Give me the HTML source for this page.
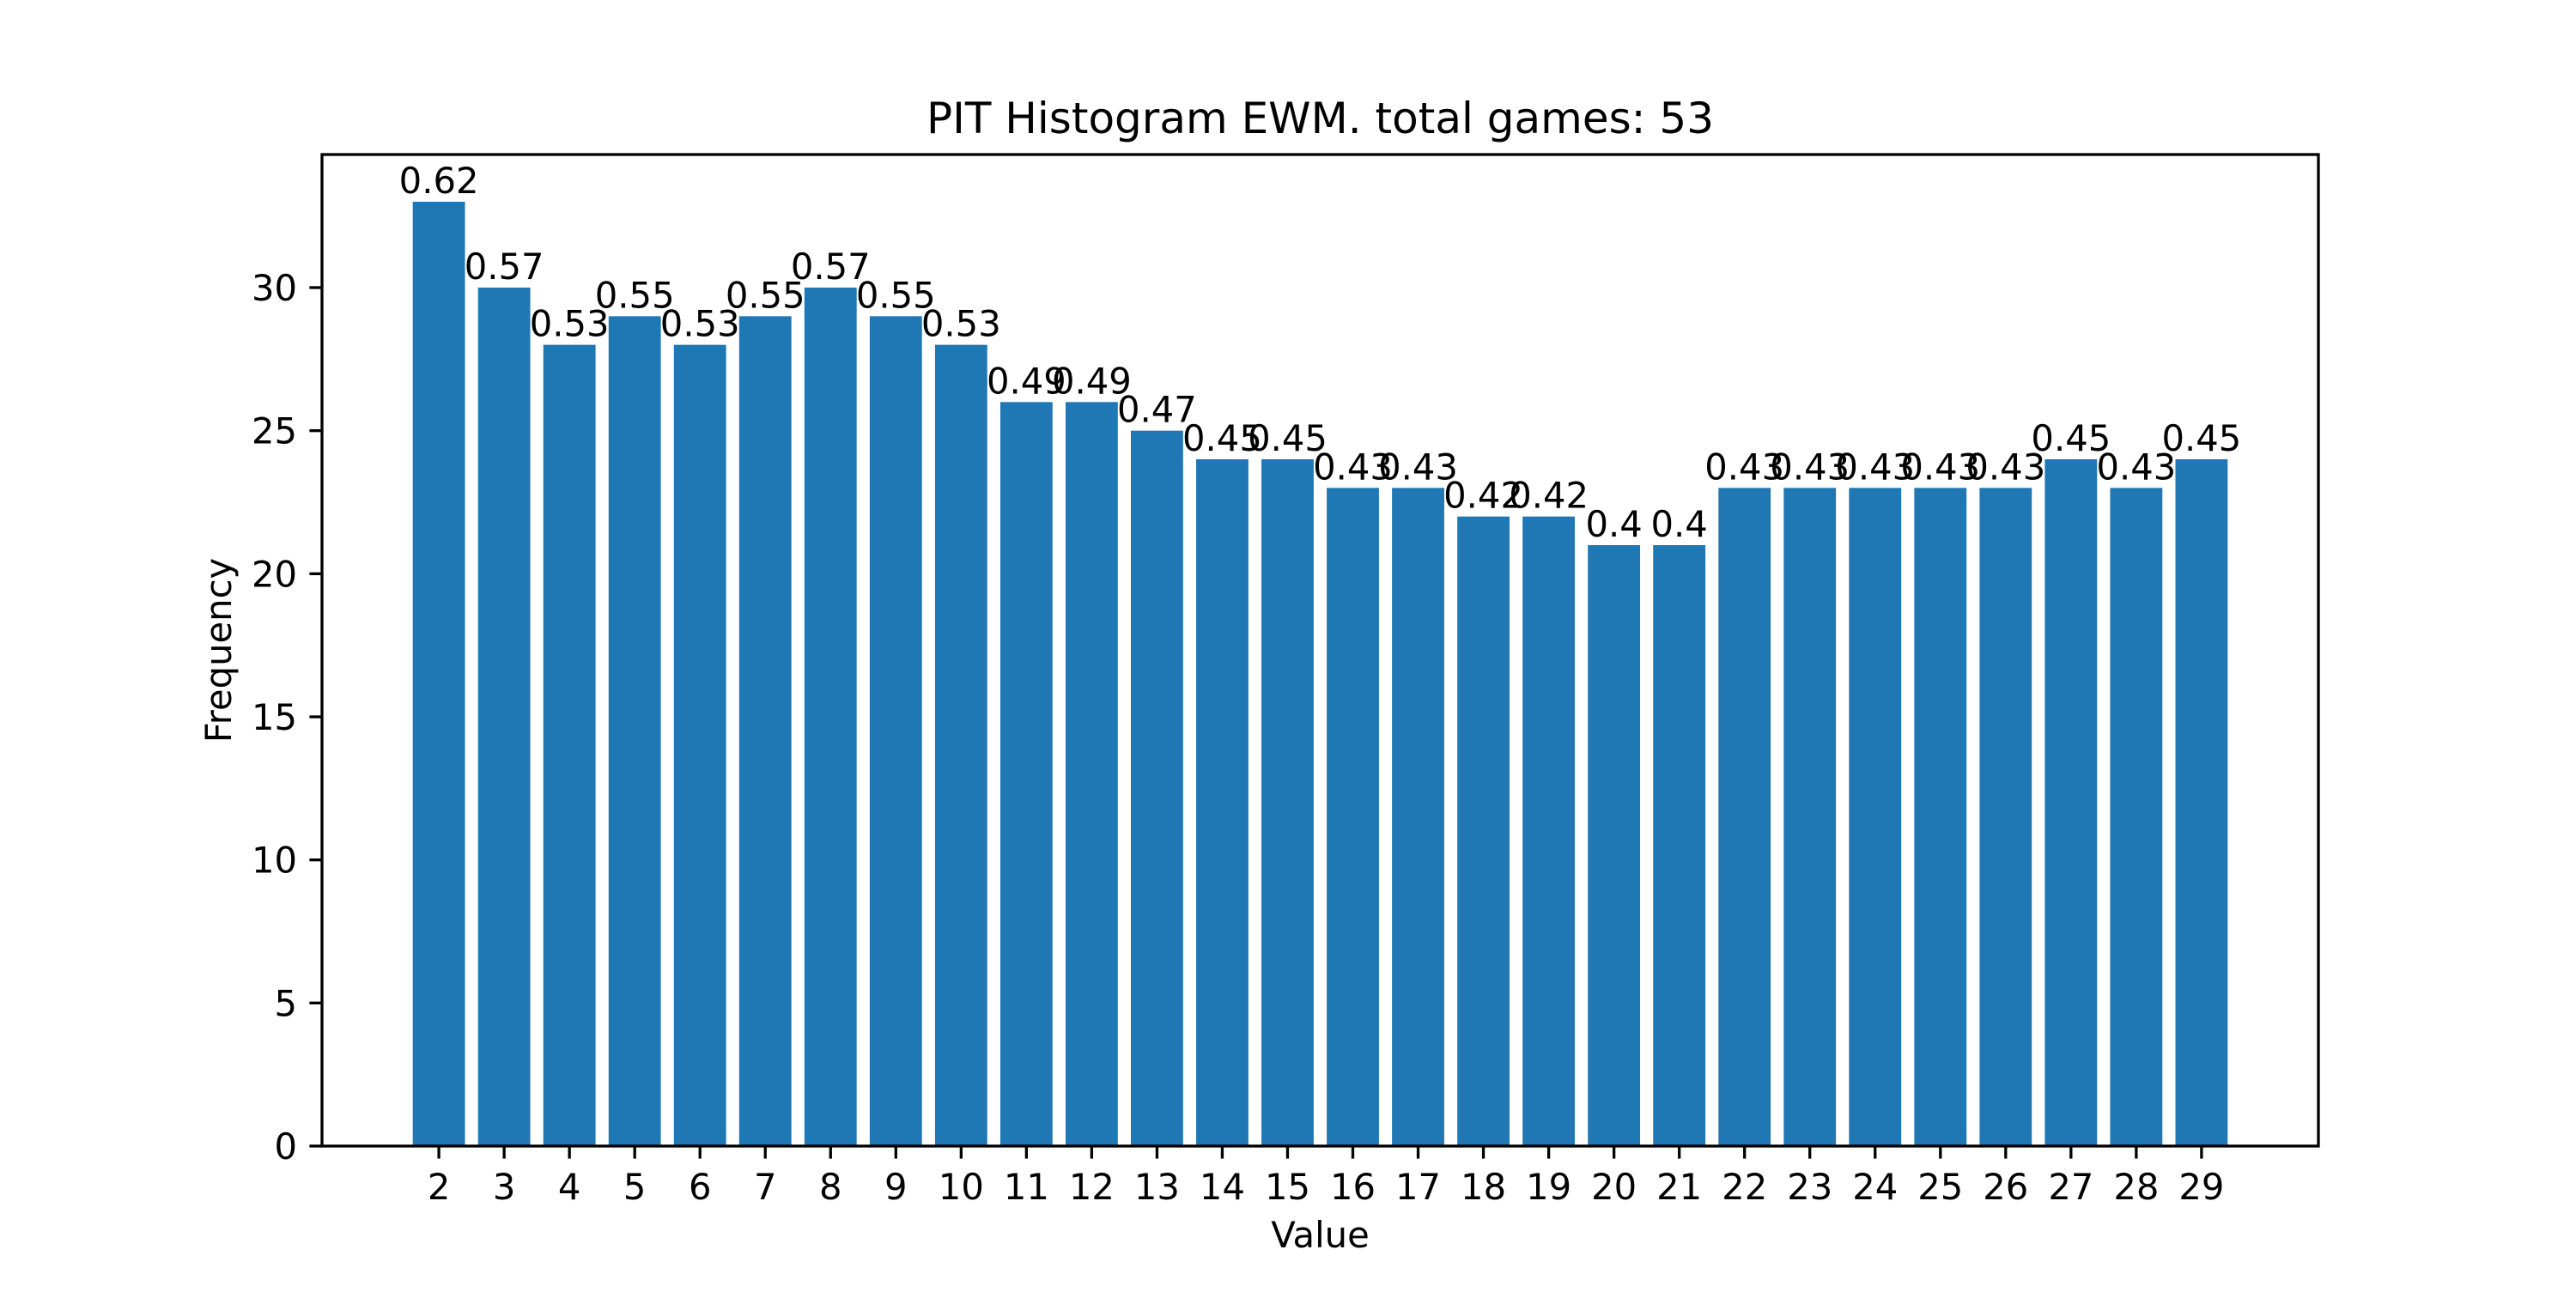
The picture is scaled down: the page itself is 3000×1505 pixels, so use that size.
<!DOCTYPE html>
<html><head><meta charset="utf-8"><style>
html,body{margin:0;padding:0;background:#fff}
svg text{font-family:"DejaVu Sans","Liberation Sans",sans-serif;fill:#000}
</style></head><body>
<svg id="chart" width="3000" height="1500" viewBox="0 0 3000 1500" xmlns="http://www.w3.org/2000/svg">
<rect width="3000" height="1500" fill="#fff"/>
<text x="1537.5" y="155" font-size="50" text-anchor="middle">PIT Histogram EWM. total games: 53</text>
<g id="bars"></g>
<g id="xticks"></g>
<g id="yticks"></g>
<rect x="375" y="180" width="2325" height="1155" fill="none" stroke="#000" stroke-width="3.3"/>
<text x="1537.5" y="1453" font-size="41.7" text-anchor="middle">Value</text>
<text x="269" y="757.5" font-size="41.7" text-anchor="middle" transform="rotate(-90 269 757.5)">Frequency</text>
</svg>
<script>
const categories=[2,3,4,5,6,7,8,9,10,11,12,13,14,15,16,17,18,19,20,21,22,23,24,25,26,27,28,29];
const frequencies=[33,30,28,29,28,29,30,29,28,26,26,25,24,24,23,23,22,22,21,21,23,23,23,23,23,24,23,24];
const barLabels=["0.62","0.57","0.53","0.55","0.53","0.55","0.57","0.55","0.53","0.49","0.49","0.47","0.45","0.45","0.43","0.43","0.42","0.42","0.4","0.4","0.43","0.43","0.43","0.43","0.43","0.45","0.43","0.45"];
const yTicks=[0,5,10,15,20,25,30];

const NS="http://www.w3.org/2000/svg";
const L=375,R=2700,T=180,B=1335;
const xmin=Math.min(...categories)-0.4, xmaxv=Math.max(...categories)+0.4;
const pad=(xmaxv-xmin)*0.05;
const x0=xmin-pad,x1=xmaxv+pad;
const ymax=Math.max(...frequencies)*1.05;
function xs(v){return L+(v-x0)/(x1-x0)*(R-L);}
function ys(v){return B-v/ymax*(B-T);}
function mk(tag,attrs){const e=document.createElementNS(NS,tag);for(const k in attrs)e.setAttribute(k,attrs[k]);return e;}
const bars=document.getElementById('bars'),xt=document.getElementById('xticks'),yt=document.getElementById('yticks');
categories.forEach((c,i)=>{
  const v=frequencies[i];
  const r=mk('rect',{x:xs(c-0.4),y:ys(v),width:xs(c+0.4)-xs(c-0.4),height:B-ys(v),fill:'#1f77b4'});
  
  
  bars.appendChild(r);
  const t=mk('text',{x:xs(c),y:ys(v)-10,'font-size':'41.7','text-anchor':'middle'});
  t.textContent=barLabels[i];
  
  
  bars.appendChild(t);
  const tk=mk('line',{x1:xs(c),x2:xs(c),y1:B,y2:B+14.6,stroke:'#000','stroke-width':'3.3'});
  
  
  xt.appendChild(tk);
  const tl=mk('text',{x:xs(c),y:1397,'font-size':'41.7','text-anchor':'middle'});
  tl.textContent=String(c);
  
  
  xt.appendChild(tl);
});
yTicks.forEach(v=>{
  const tk=mk('line',{x1:L-14.6,x2:L,y1:ys(v),y2:ys(v),stroke:'#000','stroke-width':'3.3'});
  
  
  yt.appendChild(tk);
  const tl=mk('text',{x:L-29,y:ys(v)+15,'font-size':'41.7','text-anchor':'end'});
  tl.textContent=String(v);
  
  
  yt.appendChild(tl);
});
</script>
</body></html>
